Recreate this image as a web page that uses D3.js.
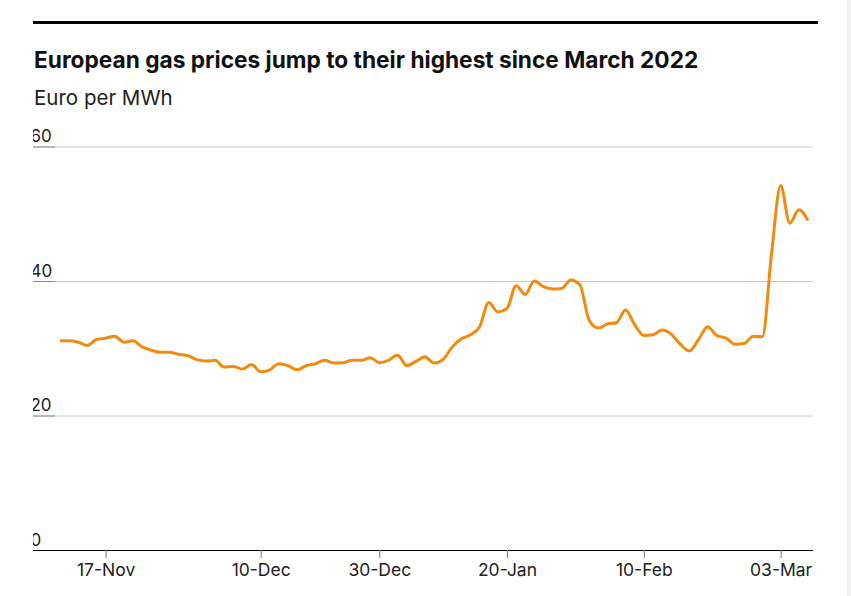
<!DOCTYPE html>
<html>
<head>
<meta charset="utf-8">
<script src="https://cdn.jsdelivr.net/npm/d3@7"></script>
<style>
  body { margin: 0; background: #fff; }
  svg { display: block; font-family: Inter, "Noto Sans", sans-serif; }
</style>
</head>
<body>
<svg class="chart"></svg>
<script>
let width = 851,
  height = 596;

// trading days, Nov 2025 - Mar 2026
const dates = [
  "2025-11-10", "2025-11-11", "2025-11-12", "2025-11-13", "2025-11-14",
  "2025-11-17", "2025-11-18", "2025-11-19", "2025-11-20", "2025-11-21",
  "2025-11-24", "2025-11-25", "2025-11-26", "2025-11-27", "2025-11-28",
  "2025-12-01", "2025-12-02", "2025-12-03", "2025-12-04", "2025-12-05",
  "2025-12-08", "2025-12-09", "2025-12-10", "2025-12-11", "2025-12-12",
  "2025-12-15", "2025-12-16", "2025-12-17", "2025-12-18", "2025-12-19",
  "2025-12-22", "2025-12-23", "2025-12-24", "2025-12-26",
  "2025-12-29", "2025-12-30", "2025-12-31", "2026-01-02",
  "2026-01-05", "2026-01-06", "2026-01-07", "2026-01-08", "2026-01-09",
  "2026-01-12", "2026-01-13", "2026-01-14", "2026-01-15", "2026-01-16",
  "2026-01-19", "2026-01-20", "2026-01-21", "2026-01-22", "2026-01-23",
  "2026-01-26", "2026-01-27", "2026-01-28", "2026-01-29", "2026-01-30",
  "2026-02-02", "2026-02-03", "2026-02-04", "2026-02-05", "2026-02-06",
  "2026-02-09", "2026-02-10", "2026-02-11", "2026-02-12", "2026-02-13",
  "2026-02-16", "2026-02-17", "2026-02-18", "2026-02-19", "2026-02-20",
  "2026-02-23", "2026-02-24", "2026-02-25", "2026-02-26", "2026-02-27",
  "2026-03-02", "2026-03-03", "2026-03-04", "2026-03-05", "2026-03-06"
];

// Euro per MWh
const prices = [
  31.1, 31.1, 30.9, 30.4, 31.3, 31.5, 31.8, 30.9, 31.1, 30.2,
  29.7, 29.4, 29.4, 29.1, 28.9, 28.3, 28.1, 28.2, 27.2, 27.3,
  26.9, 27.6, 26.5, 26.8, 27.7, 27.4, 26.8, 27.4, 27.7, 28.2,
  27.8, 27.85, 28.2, 28.2, 28.6, 27.85, 28.2, 29.0, 27.4, 28.0,
  28.75, 27.8, 28.35, 30.2, 31.4, 32.0, 33.2, 36.8, 35.4, 35.9,
  39.3, 38.0, 40.0, 39.15, 38.8, 38.9, 40.15, 39.4, 34.2, 33.0,
  33.6, 33.8, 35.7, 33.5, 31.9, 32.0, 32.7, 32.1, 30.6, 29.6,
  31.3, 33.2, 31.9, 31.5, 30.6, 30.7, 31.8, 31.7, 44.0, 54.2,
  48.6, 50.6, 49.0
];

const yTicks = [0, 20, 40, 60];
const xTickDates = ["2025-11-17", "2025-12-10", "2025-12-30", "2026-01-20", "2026-02-10", "2026-03-03"];
const xTickLabels = ["17-Nov", "10-Dec", "30-Dec", "20-Jan", "10-Feb", "03-Mar"];

let svg = d3.select(".chart").attr("width", width).attr("height", height);

// page scrollbar strip
svg.append("rect").attr("x", 847).attr("y", 0).attr("width", 4).attr("height", height).attr("fill", "#f1f1f1");

// top rule
svg.append("rect").attr("x", 33).attr("y", 21).attr("width", 785).attr("height", 3).attr("fill", "#000");

svg.append("text")
  .attr("x", 34).attr("y", 68)
  .attr("font-size", 22.7).attr("font-weight", 700).attr("fill", "#111")
  .text("European gas prices jump to their highest since March 2022");

svg.append("text")
  .attr("x", 34).attr("y", 105)
  .attr("font-size", 20.5).attr("fill", "#222")
  .text("Euro per MWh");

let x = d3.scalePoint().domain(dates).range([60, 808]);
let y = d3.scaleLinear().domain([0, 60]).range([550, 146.5]);

svg.append("clipPath").attr("id", "yclip")
  .append("rect").attr("x", 33).attr("y", 0).attr("width", 800).attr("height", height);

// gridlines + y labels (labels get cut at the left edge)
let yAxis = svg.append("g")
  .attr("clip-path", "url(#yclip)")
  .append("g")
  .attr("transform", "translate(33,0)")
  .call(d3.axisRight(y).tickValues(yTicks).tickSize(780));
yAxis.select(".domain").remove();
yAxis.selectAll(".tick line").attr("stroke", (d) => (d == 0 ? "#000" : "#ccc"));
yAxis.selectAll(".tick")
  .append("line").attr("x1", 0).attr("x2", 22).attr("stroke", (d) => (d == 0 ? "#000" : "#888"));
yAxis.selectAll(".tick text")
  .attr("x", -2.5).attr("dy", -5)
  .attr("font-family", "Inter, sans-serif")
  .attr("font-size", 17).attr("fill", "#222");

// x axis
let xAxis = svg.append("g")
  .attr("transform", "translate(0," + y(0) + ")")
  .call(d3.axisBottom(x).tickValues(xTickDates).tickFormat((d, i) => xTickLabels[i]).tickSize(8).tickPadding(6));
xAxis.select(".domain").remove();
xAxis.selectAll(".tick line").attr("stroke", "#777");
xAxis.selectAll(".tick text")
  .attr("font-family", "Inter, sans-serif")
  .attr("font-size", 17.5).attr("fill", "#222");

let line = d3.line()
  .x((d, i) => x(dates[i]))
  .y((d) => y(d))
  .curve(d3.curveMonotoneX);

svg.append("path")
  .datum(prices)
  .attr("d", line)
  .attr("fill", "none")
  .attr("stroke", "#f28a0e")
  .attr("stroke-width", 3)
  .attr("stroke-linejoin", "round");
</script>
</body>
</html>
